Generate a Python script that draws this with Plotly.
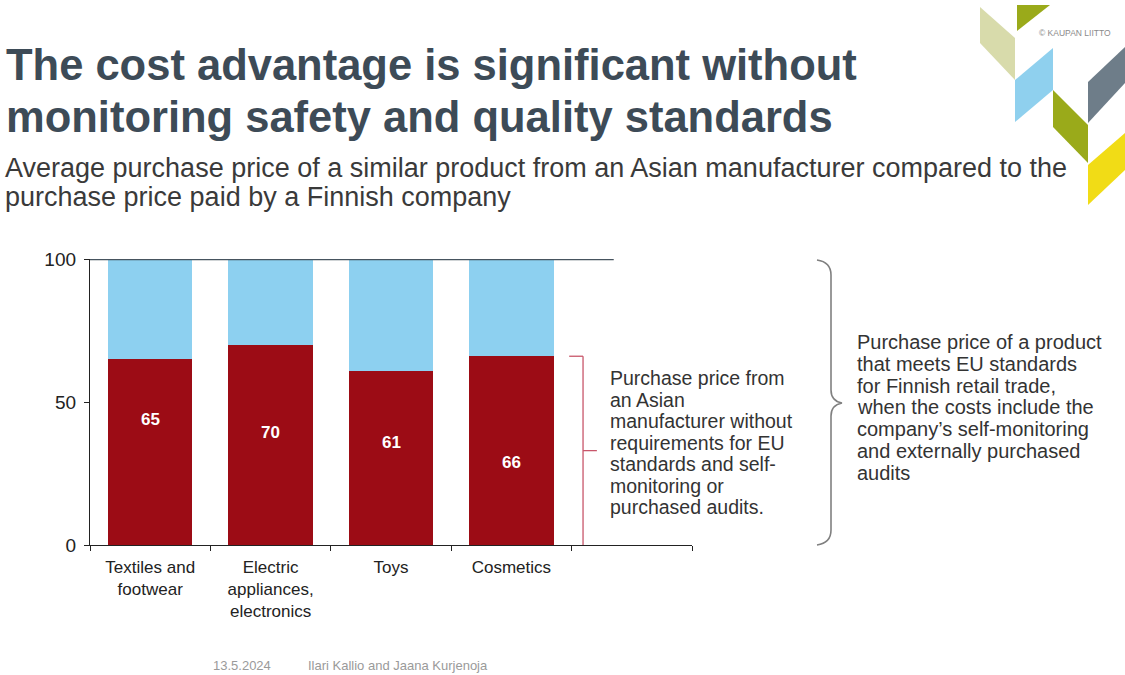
import plotly.graph_objects as go

W, H = 1125, 675

categories = ["Textiles and<br>footwear", "Electric<br>appliances,<br>electronics", "Toys", "Cosmetics"]
asian_price = [65, 70, 61, 66]
eu_price = [100, 100, 100, 100]
label_y = [44, 39.5, 35.7, 28.7]

title_lines = ["The cost advantage is significant without",
               "monitoring safety and quality standards"]
subtitle_lines = ["Average purchase price of a similar product from an Asian manufacturer compared to the",
                  "purchase price paid by a Finnish company"]
left_note = ["Purchase price from", "an Asian", "manufacturer without", "requirements for EU",
             "standards and self-", "monitoring or", "purchased audits."]
right_note = ["Purchase price of a product", "that meets EU standards", "for Finnish retail trade,",
              "when the costs include the", "company’s self-monitoring", "and externally purchased",
              "audits"]

RED = "#9c0c15"
BLUE = "#8dd0f0"
TITLE_C = "#3d4b57"
FONT = "Liberation Sans, Arial, sans-serif"


def px(x):
    return x / W


def py(y):
    return 1 - y / H


xs = list(range(len(categories)))
remainder = [e - a for e, a in zip(eu_price, asian_price)]

fig = go.Figure()
fig.add_trace(go.Bar(x=xs, y=asian_price, marker_color=RED, width=0.7,
                     marker_line_width=0, showlegend=False, hoverinfo="skip"))
fig.add_trace(go.Bar(x=xs, y=remainder, marker_color=BLUE, width=0.7,
                     marker_line_width=0, showlegend=False, hoverinfo="skip"))

for i, v in enumerate(asian_price):
    fig.add_annotation(x=i, y=label_y[i], xref="x", yref="y", text=f"<b>{v}</b>",
                       showarrow=False, font=dict(family=FONT, size=17, color="white"))

fig.update_layout(
    barmode="stack",
    width=W, height=H,
    autosize=False,
    showlegend=False,
    margin=dict(l=0, r=0, t=0, b=0, pad=0, autoexpand=False),
    paper_bgcolor="white", plot_bgcolor="white",
    xaxis=dict(domain=[px(90), px(692)], range=[-0.5, 4.5], automargin=False,
               tickvals=xs, ticktext=categories, ticks="",
               showline=True, linecolor="#222", linewidth=1.3,
               showgrid=False, zeroline=False,
               tickfont=dict(family=FONT, size=17, color="#222"),
               minor=dict(tickvals=[-0.5, 0.5, 1.5, 2.5, 3.5, 4.5], ticks="outside",
                          ticklen=5, tickcolor="#222", tickwidth=1.3, showgrid=False),
               ticklabelstandoff=6, fixedrange=True),
    yaxis=dict(domain=[py(545), py(259)], range=[0, 100], automargin=False,
               tickvals=[0, 50, 100], ticks="outside", ticklen=5, tickcolor="#222",
               showline=True, linecolor="#222", linewidth=1.3,
               showgrid=False, zeroline=False,
               tickfont=dict(family=FONT, size=19, color="#222"),
               ticklabelstandoff=4, fixedrange=True),
)

shapes = []
# top line at 100
shapes.append(dict(type="line", xref="x", yref="y", x0=-0.5, x1=3.85, y0=100, y1=100,
                   line=dict(color="#46535e", width=2.4)))
# red bracket
bx = 3.595
shapes.append(dict(type="line", xref="x", yref="y", x0=bx, x1=bx, y0=0, y1=asian_price[3],
                   line=dict(color="#c8566a", width=1.3)))
shapes.append(dict(type="line", xref="x", yref="y", x0=3.48, x1=bx, y0=asian_price[3], y1=asian_price[3],
                   line=dict(color="#c8566a", width=1.3)))
shapes.append(dict(type="line", xref="x", yref="y", x0=bx, x1=3.71, y0=asian_price[3] / 2, y1=asian_price[3] / 2,
                   line=dict(color="#c8566a", width=1.3)))


def P(x, y):
    return f"{px(x):.5f},{py(y):.5f}"


brace = (f"M {P(817, 260)} Q {P(831, 262)} {P(831, 275)} L {P(831, 390)} "
         f"Q {P(831, 401)} {P(842, 403)} Q {P(831, 405)} {P(831, 416)} "
         f"L {P(831, 530)} Q {P(831, 543)} {P(817, 545)}")
shapes.append(dict(type="path", xref="paper", yref="paper", path=brace,
                   line=dict(color="#808080", width=1.6)))


def poly(pts, color):
    path = "M " + " L ".join(P(x, y) for x, y in pts) + " Z"
    return dict(type="path", xref="paper", yref="paper", path=path,
                fillcolor=color, line=dict(width=0), layer="above")


shapes.append(poly([(980, 7), (1015, 38), (1015, 80), (980, 43)], "#d8dbab"))
shapes.append(poly([(1017, 5), (1050, 5), (1017, 31)], "#9aaa1a"))
shapes.append(poly([(1015, 80), (1053, 48), (1053, 90), (1015, 122)], "#8fd0ee"))
shapes.append(poly([(1053, 90), (1088, 125), (1088, 163), (1053, 127)], "#9aaa1a"))
shapes.append(poly([(1088, 82), (1125, 47), (1125, 83), (1088, 123)], "#6e7d89"))
shapes.append(poly([(1088, 165), (1125, 133), (1125, 170), (1088, 205)], "#f1dc16"))
fig.update_layout(shapes=shapes)


def text_lines(lines, x, y0, step, size, color, bold=False):
    for k, line in enumerate(lines):
        t = f"<b>{line}</b>" if bold else line
        fig.add_annotation(x=px(x), y=py(y0 + k * step), xref="paper", yref="paper",
                           xanchor="left", yanchor="middle", align="left", showarrow=False,
                           text=t, font=dict(family=FONT, size=size, color=color))


text_lines(title_lines, 4, 65, 52, 43.5, TITLE_C, bold=True)
text_lines(subtitle_lines, 3, 168, 29.5, 27, "#3a3a3a")
text_lines(left_note, 608, 378, 21.5, 19.5, "#333")
text_lines(right_note, 855, 342, 21.8, 20, "#333")

fig.add_annotation(x=px(1037), y=py(33), xref="paper", yref="paper", xanchor="left", yanchor="middle",
                   showarrow=False, text="© KAUPAN LIITTO",
                   font=dict(family=FONT, size=8.5, color="#8a8a8a"))
fig.add_annotation(x=px(211), y=py(665), xref="paper", yref="paper", xanchor="left", yanchor="middle",
                   showarrow=False, text="13.5.2024",
                   font=dict(family=FONT, size=13, color="#9a9a9a"))
fig.add_annotation(x=px(306), y=py(665), xref="paper", yref="paper", xanchor="left", yanchor="middle",
                   showarrow=False, text="Ilari Kallio and Jaana Kurjenoja",
                   font=dict(family=FONT, size=13, color="#9a9a9a"))

fig.write_html("out.html")
